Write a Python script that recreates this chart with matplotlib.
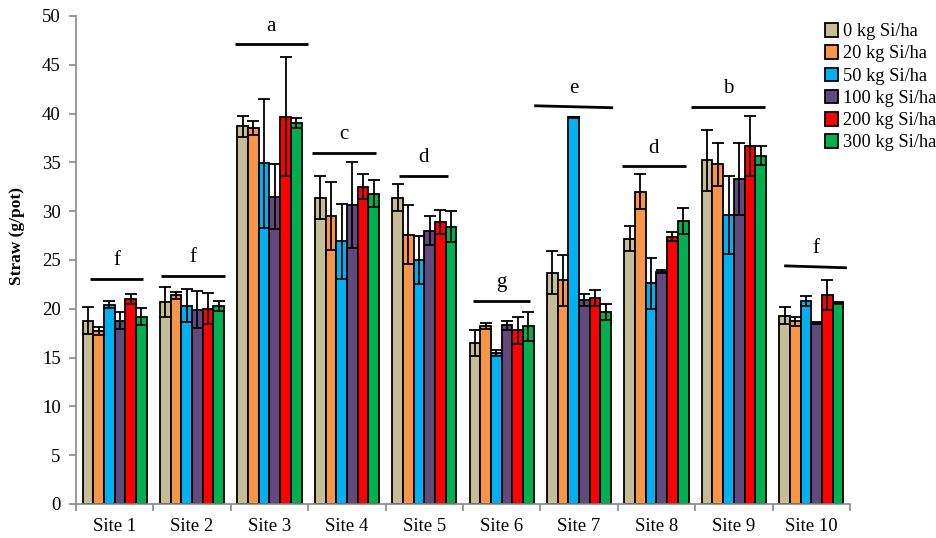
import numpy as np
import matplotlib
matplotlib.use("Agg")
import matplotlib.pyplot as plt

plt.rcParams['font.family'] = ['Liberation Serif', 'DejaVu Serif']

sites = ['Site 1', 'Site 2', 'Site 3', 'Site 4', 'Site 5',
         'Site 6', 'Site 7', 'Site 8', 'Site 9', 'Site 10']
doses = ['0 kg Si/ha', '20 kg Si/ha', '50 kg Si/ha',
         '100 kg Si/ha', '200 kg Si/ha', '300 kg Si/ha']
colors = ['#C4BD97', '#F79646', '#00B0F0', '#604A7B', '#FF0000', '#00B050']

# straw weight (g/pot), one list per Si dose, sites 1..10
straw_0 = [18.8, 20.7, 38.7, 31.4, 31.4, 16.5, 23.7, 27.2, 35.2, 19.3]
straw_20 = [17.7, 21.4, 38.5, 29.5, 27.6, 18.2, 22.9, 32.0, 34.8, 18.7]
straw_50 = [20.4, 20.3, 34.9, 26.9, 25.0, 15.5, 39.6, 22.6, 29.6, 20.8]
straw_100 = [18.8, 19.9, 31.5, 30.6, 28.0, 18.3, 20.9, 23.8, 33.3, 18.5]
straw_200 = [21.0, 20.0, 39.7, 32.5, 28.9, 17.8, 21.1, 27.4, 36.7, 21.4]
straw_300 = [19.2, 20.3, 39.0, 31.8, 28.4, 18.2, 19.7, 29.0, 35.7, 20.6]

# standard errors
err_0 = [1.4, 1.5, 1.1, 2.2, 1.4, 1.3, 2.2, 1.3, 3.1, 0.9]
err_20 = [0.4, 0.35, 0.7, 3.5, 3.0, 0.3, 2.6, 1.8, 2.2, 0.5]
err_50 = [0.35, 1.7, 6.6, 3.8, 2.5, 0.3, 0.1, 2.6, 4.0, 0.5]
err_100 = [0.9, 1.9, 3.3, 4.4, 1.5, 0.5, 0.6, 0.15, 3.7, 0.1]
err_200 = [0.5, 1.6, 6.1, 1.3, 1.2, 1.4, 0.8, 0.5, 3.1, 1.5]
err_300 = [0.9, 0.5, 0.5, 1.4, 1.6, 1.5, 0.8, 1.3, 1.0, 0.1]

means = [straw_0, straw_20, straw_50, straw_100, straw_200, straw_300]
errors = [err_0, err_20, err_50, err_100, err_200, err_300]

# significance groups: letter, site index, line level at left / right end
sig_letters = ['f', 'f', 'a', 'c', 'd', 'g', 'e', 'd', 'b', 'f']
sig_left = [23.1, 23.4, 47.1, 36.0, 33.6, 20.8, 40.8, 34.6, 40.7, 24.4]
sig_right = [23.1, 23.4, 47.1, 36.0, 33.6, 20.8, 40.6, 34.6, 40.7, 24.2]
sig_span = [(-0.32, 0.37), (-0.40, 0.43), (-0.45, 0.50), (-0.45, 0.38),
            (-0.33, 0.31), (-0.37, 0.37), (-0.58, 0.44), (-0.45, 0.38),
            (-0.55, 0.40), (-0.35, 0.46)]

fig = plt.figure(figsize=(9.37, 5.38), dpi=100)
ax = fig.add_axes([0.0811, 0.0632, 0.8260, 0.9071])

x = np.arange(len(sites))
width = 0.138
for i, (vals, errs) in enumerate(zip(means, errors)):
    pos = x + (i - 2.5) * width
    ax.bar(pos, vals, width, color=colors[i], edgecolor='black',
           linewidth=1.3, label=doses[i], zorder=2)
    ax.errorbar(pos, vals, yerr=errs, fmt='none', ecolor='black',
                elinewidth=1.3, capsize=4.5, capthick=1.3, zorder=3)

for k, letter in enumerate(sig_letters):
    x0, x1 = k + sig_span[k][0], k + sig_span[k][1]
    ax.plot([x0, x1], [sig_left[k], sig_right[k]], color='black',
            linewidth=2, solid_capstyle='butt', zorder=4)
    ymid = (sig_left[k] + sig_right[k]) / 2
    ax.text((x0 + x1) / 2, ymid + 1.4, letter, ha='center', va='baseline',
            fontsize=15)

ax.set_xlim(-0.5, len(sites) - 0.5)
ax.set_ylim(0, 50)
ax.set_yticks(np.arange(0, 51, 5))
ax.set_xticks(x)
ax.set_xticklabels(sites)
ax.set_xticks(np.arange(-0.5, len(sites), 1), minor=True)
ax.tick_params(axis='x', which='major', length=0, labelsize=13.5, pad=10)
ax.tick_params(axis='x', which='minor', length=5, color='#888888', width=1.2)
ax.tick_params(axis='y', length=5, color='#888888', width=1.2,
               labelsize=13.5, pad=6)
for side in ['top', 'right']:
    ax.spines[side].set_visible(False)
for side in ['left', 'bottom']:
    ax.spines[side].set_color('#888888')
    ax.spines[side].set_linewidth(1.2)

ax.set_ylabel('Straw (g/pot)', fontsize=12.5, fontweight='bold')
ax.yaxis.set_label_coords(-0.066, 0.55)

fig.legend(loc='upper left', bbox_to_anchor=(0.880, 0.957), frameon=False,
           fontsize=13.2, handlelength=0.75, handleheight=0.75,
           handletextpad=0.25, labelspacing=0.28, borderpad=0, borderaxespad=0)

fig.savefig('out.png', dpi=100)
